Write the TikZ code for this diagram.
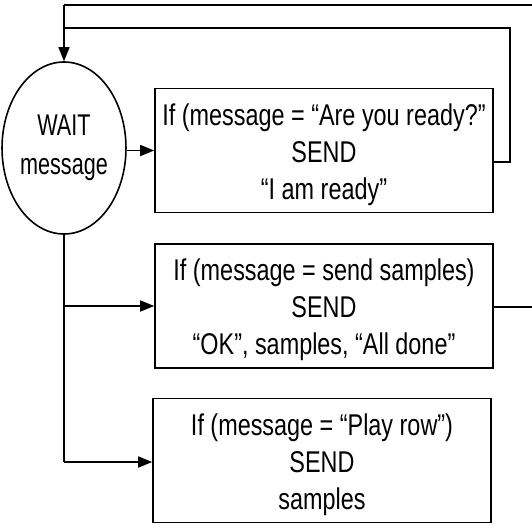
\documentclass[tikz,border=0pt]{standalone}
\usepackage{fontspec}
\setmainfont{Liberation Sans}
\newfontfamily\boxfont{Liberation Sans}[FakeStretch=0.78]
\newfontfamily\waitfont{Liberation Sans}[FakeStretch=0.72]
\usetikzlibrary{shapes.geometric,arrows.meta}
\tikzset{
  conn/.style={line width=1.6pt},
  arr/.style={conn,-{Triangle[length=14pt,width=11pt]}},
  stepbox/.style={draw,line width=1.6pt,minimum width=338pt,minimum height=124pt,inner sep=0pt},
  boxtext/.style={inner sep=0pt,align=center,font=\boxfont\fontsize{30}{37}\selectfont},
  waitnode/.style={draw,ellipse,line width=1.6pt,minimum width=106pt,minimum height=172pt,inner sep=0pt,align=center,font=\waitfont\fontsize{30}{39}\selectfont}
}
\begin{document}
\begin{tikzpicture}[x=1pt,y=-1pt]
\useasboundingbox (0,0) rectangle (532,524);
\node[waitnode] (wait) at (64,148) {WAIT\\message};
\node[stepbox] (b1) at (324,150.5) {};
\node[stepbox] (b2) at (324,306) {};
\node[stepbox] (b3) at (322,460.5) {};
\node[boxtext] (t1) at ([yshift=-4.5pt]b1.center) {If (message = “Are you ready?”\\SEND\\“I am ready”};
\node[boxtext] (t2) at ([yshift=-4pt]b2.center) {If (message = send samples)\\SEND\\“OK”, samples, “All done”};
\node[boxtext] (t3) at ([yshift=-4.5pt]b3.center) {If (message = “Play row”)\\SEND\\samples};
\coordinate (outerR) at (532,5);
\coordinate (outerL) at (64,5);
\coordinate (innerTR) at (510,28);
\coordinate (innerTL) at (64,28);
\coordinate (innerBR) at (510,162);
\coordinate (b2R) at (532,307);
\coordinate (j2) at (64,306);
\coordinate (j3) at (64,462);
% loops back to WAIT
\draw[conn] (outerR) -- (outerL);
\draw[arr] (outerL) -- (wait.north);
\draw[conn] (b1.east |- innerBR) -- (innerBR) -- (innerTR) -- (innerTL);
\draw[conn] (b2.east |- b2R) -- (b2R);
% from WAIT
\draw[arr] (wait.east |- b1.west) -- (b1.west);
\draw[conn] (wait.south) -- (j3);
\draw[arr] (j2) -- (b2.west |- j2);
\draw[arr] (j3) -- (b3.west |- j3);
\end{tikzpicture}
\end{document}
